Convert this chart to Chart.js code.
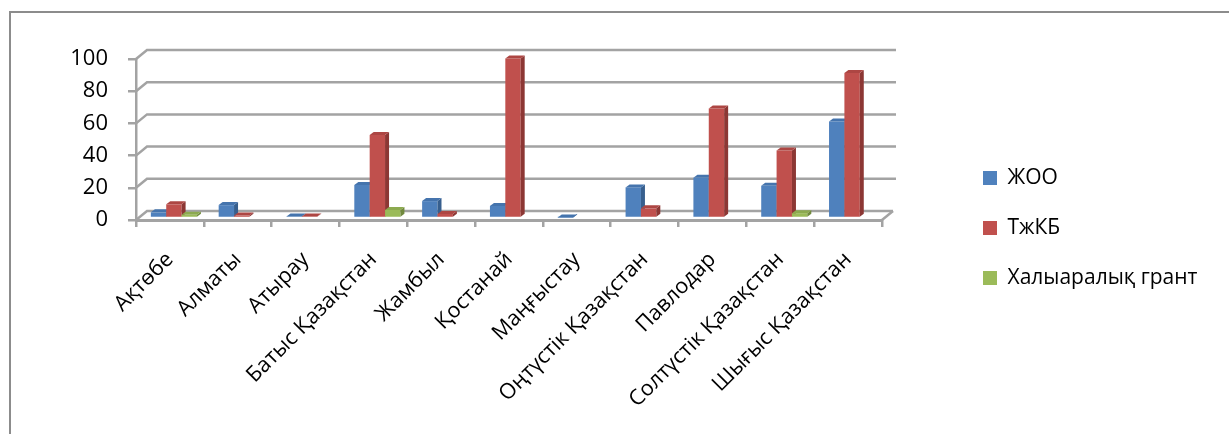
<!DOCTYPE html>
<html>
<head>
<meta charset="utf-8">
<script src="https://cdn.jsdelivr.net/npm/chart.js@4.4.0/dist/chart.umd.min.js"></script>
<style>
  html, body { margin: 0; padding: 0; background: #fff; }
  #wrap { width: 1229px; height: 434px; }
</style>
</head>
<body>
<div id="wrap"><canvas id="chart" width="1229" height="434"></canvas></div>
<script>
// data
const regions = ['Ақтөбе', 'Алматы', 'Атырау', 'Батыс Қазақстан', 'Жамбыл', 'Қостанай',
  'Маңғыстау', 'Оңтүстік Қазақстан', 'Павлодар', 'Солтүстік Қазақстан', 'Шығыс Қазақстан'];
const seriesNames = ['ЖОО', 'ТжКБ', 'Халыаралық грант'];
const zhoo = [3.5, 8, 1, 20.5, 10.5, 7.5, 0.3, 19, 25, 20, 60];
const tzhkb = [8.5, 1.5, 1, 51.5, 2.5, 99, 0, 6, 68, 42, 90];
const grant = [2, 0, 0, 5, 0, 0, 0, 0, 0, 3, 0];
const yTicks = [0, 20, 40, 60, 80, 100];

const FONT = '"Open Sans", "Noto Sans", sans-serif';
const GRID = '#a3a3a3';
// colours: front, side, top
const shades = [
  ['#4f81bd', '#375f8e', '#4574ad'],
  ['#c0504d', '#8c3734', '#ad4643'],
  ['#9bbb59', '#718a3e', '#8caa4f']
];

// 3d offsets (wall depth, bar shift, bar depth)
const DX = 11, DY = -9;
const FX = 4, FY = -2;
const BX = 4, BY = -3;

// layout numbers
const padTop = 36, padBottom = 14, plotTop = 59, plotBottom = 220;
const legendFont = 21, legendPad = 29, legendBoxX = 985, plotRight = 884;
const mctx = document.createElement('canvas').getContext('2d');
mctx.font = legendFont + 'px ' + FONT;
const maxText = Math.max(...seriesNames.map(s => mctx.measureText(s).width));
const legendW = legendPad + 14 + legendFont / 2 + maxText;
const legendLeft = legendBoxX - legendPad;
const padRight = Math.max(0, 1229 - legendLeft - legendW - 8);

const poly = (ctx, pts, color) => {
  ctx.fillStyle = color;
  ctx.beginPath();
  ctx.moveTo(pts[0][0], pts[0][1]);
  for (let k = 1; k < pts.length; k++) ctx.lineTo(pts[k][0], pts[k][1]);
  ctx.closePath();
  ctx.fill();
};

const depth3d = {
  id: 'depth3d',
  beforeDraw(chart) {
    const ctx = chart.ctx;
    ctx.save();
    ctx.fillStyle = '#fff';
    ctx.fillRect(0, 0, chart.width, chart.height);
    ctx.strokeStyle = '#8c8c8c';
    ctx.lineWidth = 2;
    ctx.strokeRect(10, 12, 1400, 600);
    ctx.restore();
  },
  beforeDatasetsDraw(chart) {
    const { ctx, chartArea: a } = chart;
    const y = chart.scales.y;
    ctx.save();
    ctx.strokeStyle = GRID;
    ctx.lineWidth = 2.5;
    yTicks.forEach(v => {
      const yf = y.getPixelForValue(v);
      ctx.beginPath();
      ctx.moveTo(a.left, yf);
      ctx.lineTo(a.left + DX, yf + DY);
      ctx.lineTo(a.right + DX + (v === 0 ? 0 : 3), yf + DY);
      ctx.stroke();
    });
    ctx.beginPath();
    ctx.moveTo(a.right, a.bottom);
    ctx.lineTo(a.right + DX, a.bottom + DY);
    ctx.stroke();

    const sets = chart.data.datasets;
    for (let i = 0; i < regions.length; i++) {
      sets.forEach((ds, d) => {
        const val = ds.data[i];
        if (!val) return;
        const el = chart.getDatasetMeta(d).data[i];
        const p = el.getProps(['x', 'y', 'base', 'width'], true);
        const l = p.x - p.width / 2 + FX, r = p.x + p.width / 2 + FX;
        const t = p.y + FY, b = p.base + FY;
        const c = shades[d];
        poly(ctx, [[l, t], [r, t], [r, b], [l, b]], c[0]);
        poly(ctx, [[r, t], [r + BX, t + BY], [r + BX, b + BY], [r, b]], c[1]);
        poly(ctx, [[l, t], [l + BX, t + BY], [r + BX, t + BY], [r, t]], c[2]);
      });
    }
    ctx.restore();
    return false;
  }
};

new Chart(document.getElementById('chart'), {
  type: 'bar',
  data: {
    labels: regions,
    datasets: [
      { label: seriesNames[0], data: zhoo, backgroundColor: shades[0][0], borderWidth: 0 },
      { label: seriesNames[1], data: tzhkb, backgroundColor: shades[1][0], borderWidth: 0 },
      { label: seriesNames[2], data: grant, backgroundColor: shades[2][0], borderWidth: 0 }
    ]
  },
  options: {
    responsive: false,
    animation: false,
    devicePixelRatio: 1,
    categoryPercentage: 0.68,
    barPercentage: 1,
    layout: { padding: { left: 10, top: padTop, bottom: padBottom, right: padRight } },
    plugins: {
      tooltip: { enabled: false },
      legend: {
        position: 'right',
        maxWidth: 600,
        labels: {
          boxWidth: 14,
          boxHeight: 14,
          padding: legendPad,
          color: '#000',
          font: { family: FONT, size: legendFont }
        }
      }
    },
    scales: {
      x: {
        grid: { drawOnChartArea: false, tickLength: 7, color: GRID, lineWidth: 2.5, offset: true },
        border: { color: GRID, width: 3 },
        ticks: { color: '#000', minRotation: 45, maxRotation: 45, padding: 20, font: { family: FONT, size: 21.5 } },
        afterFit: s => { s.height = 434 - padBottom - plotBottom; s.paddingLeft = 0; s.paddingRight = 0; }
      },
      y: {
        min: 0,
        max: 100,
        grid: { drawOnChartArea: false, tickLength: 8, color: GRID, lineWidth: 2.5 },
        border: { color: GRID, width: 2.5 },
        ticks: { stepSize: 20, color: '#000', padding: 20, font: { family: FONT, size: 22 } },
        afterFit: s => { s.width = 126; s.paddingTop = plotTop; s.paddingBottom = 0; }
      },
      gap: {
        position: 'right',
        display: true,
        grid: { display: false },
        border: { display: false },
        ticks: { display: false },
        afterFit: s => { s.width = legendLeft - plotRight; }
      }
    }
  },
  plugins: [depth3d]
});
</script>
</body>
</html>
